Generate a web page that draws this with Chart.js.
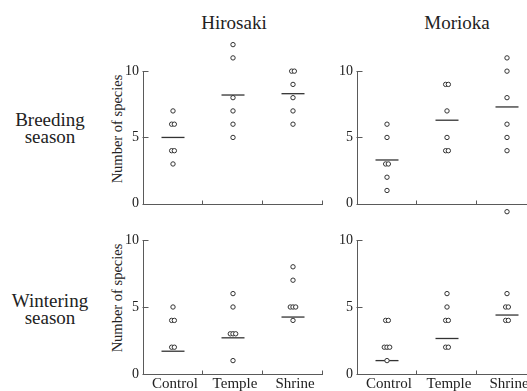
<!DOCTYPE html>
<html>
<head>
<meta charset="utf-8">
<script src="https://cdn.jsdelivr.net/npm/chart.js@4.4.0/dist/chart.umd.min.js"></script>
<style>
  body { margin: 0; background: #fff; }
  #wrap { position: relative; width: 527px; height: 391px; overflow: hidden; font-family: "Liberation Serif", "Times New Roman", serif; color: #222; }
  canvas { position: absolute; }
  .lbl { position: absolute; white-space: nowrap; text-align: center; line-height: 17px; font-size: 19px; }
  .ytitle { position: absolute; white-space: nowrap; font-size: 14.5px; transform: translate(-50%, -50%) rotate(-90deg); }
</style>
</head>
<body>
<div id="wrap">
  <div class="lbl" style="left:194px; top:14px; width:80px;">Hirosaki</div>
  <div class="lbl" style="left:417px; top:14px; width:80px;">Morioka</div>
  <div class="lbl" style="left:0px; top:111px; width:100px;">Breeding<br>season</div>
  <div class="lbl" style="left:0px; top:292px; width:100px;">Wintering<br>season</div>
  <div class="ytitle" style="left:117px; top:129px;">Number of species</div>
  <div class="ytitle" style="left:117px; top:298px;">Number of species</div>

  <canvas id="c1" width="230" height="190" style="left:100px; top:30px;"></canvas>
  <canvas id="c2" width="207" height="190" style="left:320px; top:30px;"></canvas>
  <canvas id="c3" width="230" height="176" style="left:100px; top:215px;"></canvas>
  <canvas id="c4" width="207" height="176" style="left:320px; top:215px;"></canvas>
</div>
<script>
// categories on the x axis
const categories = ["Control", "Temple", "Shrine"];

// species counts per site (Control, Temple, Shrine)
const hirosakiBreeding = [[7, 6, 6, 4, 4, 3], [12, 11, 8, 7, 6, 5], [10, 10, 9, 8, 7, 6]];
const hirosakiBreedingMean = [5.0, 8.2, 8.3];

const moriokaBreeding = [[6, 5, 3, 3, 2, 1], [9, 9, 7, 5, 4, 4], [11, 10, 8, 6, 5, 4, -0.6]];
const moriokaBreedingMean = [3.3, 6.3, 7.3];

const hirosakiWintering = [[5, 4, 4, 2, 2], [6, 5, 3, 3, 3, 1], [8, 7, 5, 5, 5, 4]];
const hirosakiWinteringMean = [1.7, 2.7, 4.25];

const moriokaWintering = [[4, 4, 2, 2, 2, 1], [6, 5, 4, 4, 2, 2], [6, 5, 5, 4, 4]];
const moriokaWinteringMean = [1.0, 2.65, 4.4];

const yTicks = [0, 5, 10];

const axisColor = "#5a5a5a";
const inkColor = "#333";
const serif = "'Liberation Serif', 'Times New Roman', serif";

// 同じ値の点は横に少しずらす
function toPoints(groups) {
  const pts = [];
  const spread = 0.045;
  groups.forEach((vals, i) => {
    const counts = {};
    vals.forEach((v) => (counts[v] = (counts[v] || 0) + 1));
    const seen = {};
    vals.forEach((v) => {
      const k = seen[v] || 0;
      seen[v] = k + 1;
      pts.push({ x: i + 0.5 + (k - (counts[v] - 1) / 2) * spread, y: v });
    });
  });
  return pts;
}

function toMeans(means) {
  return means.map((m, i) => ({ x: i + 0.5, y: m }));
}

// 軸線（0〜10）と内向きの目盛りを描く
const axesPlugin = {
  id: "axesLines",
  afterDraw(chart) {
    const { ctx, chartArea } = chart;
    const xs = chart.scales.x;
    const ys = chart.scales.y;
    const left = Math.round(chartArea.left) + 0.5;
    const y0 = Math.round(ys.getPixelForValue(0)) + 0.5;
    const y10 = Math.round(ys.getPixelForValue(10)) + 0.5;
    ctx.save();
    ctx.strokeStyle = axisColor;
    ctx.lineWidth = 1;
    ctx.beginPath();
    ctx.moveTo(left, y10);
    ctx.lineTo(left, y0);
    ctx.lineTo(chartArea.right, y0);
    yTicks.forEach((v) => {
      const py = Math.round(ys.getPixelForValue(v)) + 0.5;
      ctx.moveTo(left - 1, py);
      ctx.lineTo(left + 5, py);
    });
    [1, 2, 3].forEach((v) => {
      if (v > xs.max) return;
      const px = Math.round(xs.getPixelForValue(v)) - 0.5;
      ctx.moveTo(px, y0);
      ctx.lineTo(px, y0 - 4);
    });
    ctx.stroke();
    ctx.restore();
  },
};

function makePanel(id, groups, means, opt) {
  const ctx = document.getElementById(id).getContext("2d");
  return new Chart(ctx, {
    type: "scatter",
    data: {
      datasets: [
        {
          data: toPoints(groups),
          pointRadius: 2.2,
          pointBorderWidth: 1,
          pointBorderColor: inkColor,
          pointBackgroundColor: "#fff",
        },
        {
          data: toMeans(means),
          pointStyle: "line",
          pointRadius: 11.5,
          pointBorderWidth: 1.3,
          pointBorderColor: inkColor,
        },
      ],
    },
    options: {
      responsive: false,
      animation: false,
      events: [],
      layout: { padding: opt.padding, autoPadding: false },
      plugins: { legend: { display: false }, tooltip: { enabled: false } },
      scales: {
        x: {
          type: "linear",
          min: 0,
          max: opt.xMax,
          grid: { display: false, drawTicks: false },
          border: { display: false },
          afterBuildTicks: (s) => {
            s.ticks = [0.5, 1.5, 2.5].map((v) => ({ value: v }));
          },
          afterFit: (s) => {
            s.height = opt.xHeight;
            s.paddingLeft = 0;
            s.paddingRight = 0;
          },
          ticks: {
            display: opt.showX,
            autoSkip: false,
            maxRotation: 0,
            padding: 1,
            labelOffset: 2,
            color: "#222",
            font: { family: serif, size: 15 },
            callback: (v, i) => categories[i],
          },
        },
        y: {
          min: opt.yMin,
          max: opt.yMax,
          grid: { display: false, drawTicks: false },
          border: { display: false },
          afterBuildTicks: (s) => {
            s.ticks = yTicks.map((v) => ({ value: v }));
          },
          afterFit: (s) => {
            s.width = opt.yWidth;
            s.paddingTop = 0;
            s.paddingBottom = 0;
          },
          ticks: {
            padding: 4,
            color: "#222",
            font: { family: serif, size: 14 },
          },
        },
      },
    },
    plugins: [axesPlugin],
  });
}

// 右側のパネルは画面の端で切れる
const rightXMax = (527 - 357) / 60;

const topRow = { yMin: -1, yMax: 12.5, xHeight: 0, showX: false };
const bottomRow = { yMin: 0, yMax: 10, xHeight: 17, showX: true };

makePanel("c1", hirosakiBreeding, hirosakiBreedingMean, {
  ...topRow, padding: { left: 0, top: 8, right: 7, bottom: 3 }, xMax: 3, yWidth: 43,
});
makePanel("c2", moriokaBreeding, moriokaBreedingMean, {
  ...topRow, padding: { left: 0, top: 8, right: 0, bottom: 3 }, xMax: rightXMax, yWidth: 37,
});
makePanel("c3", hirosakiWintering, hirosakiWinteringMean, {
  ...bottomRow, padding: { left: 0, top: 25, right: 7, bottom: 0 }, xMax: 3, yWidth: 43,
});
makePanel("c4", moriokaWintering, moriokaWinteringMean, {
  ...bottomRow, padding: { left: 0, top: 25, right: 0, bottom: 0 }, xMax: rightXMax, yWidth: 37,
});
</script>
</body>
</html>
